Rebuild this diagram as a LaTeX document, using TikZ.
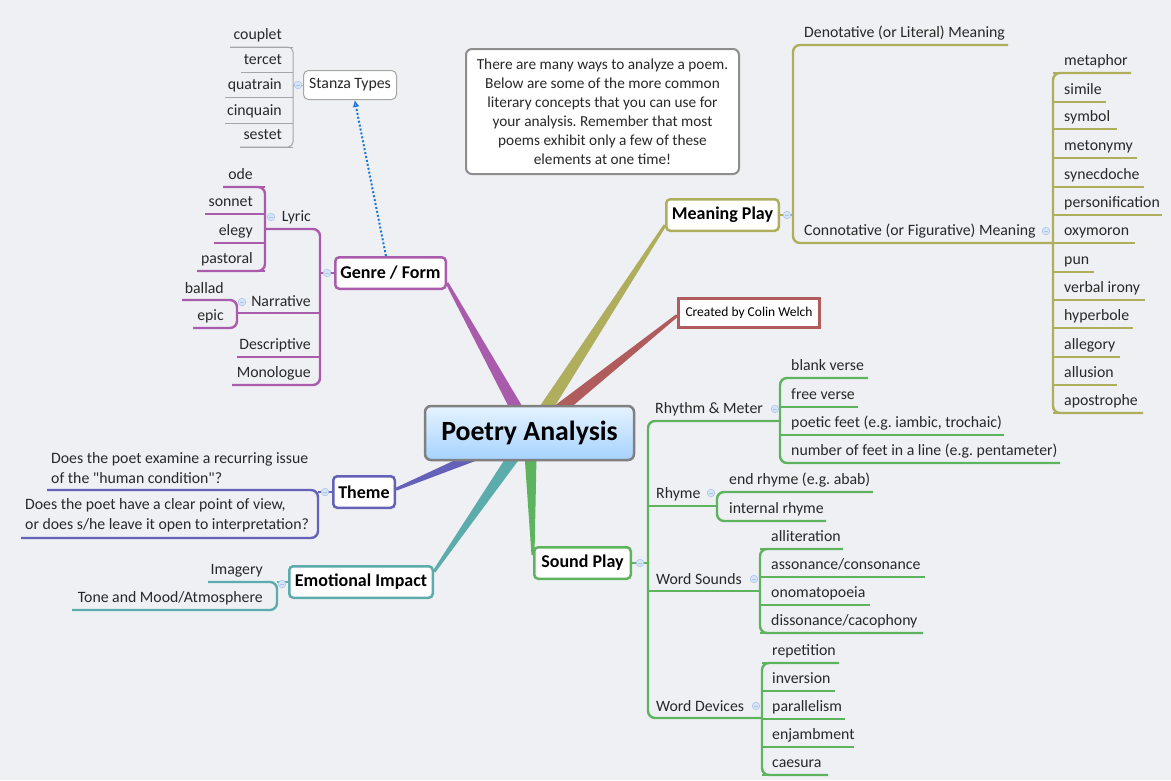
\documentclass[tikz,border=0pt]{standalone}
\usepackage{fontspec}
\setmainfont{Carlito}[Ligatures=TeXOff]
\usetikzlibrary{calc,arrows.meta}
\frenchspacing

\definecolor{bgcol}{RGB}{239,240,244}
\definecolor{purp}{RGB}{170,92,172}
\definecolor{olive}{RGB}{174,174,92}
\definecolor{brick}{RGB}{176,92,92}
\definecolor{slate}{RGB}{100,98,184}
\definecolor{teal}{RGB}{92,172,172}
\definecolor{leafgreen}{RGB}{94,180,94}
\definecolor{stanzagray}{RGB}{165,165,165}
\definecolor{linkblue}{RGB}{30,120,220}
\definecolor{knobdraw}{RGB}{170,196,234}
\definecolor{knobfill}{RGB}{214,228,248}
\definecolor{ctop}{RGB}{230,243,255}
\definecolor{cbot}{RGB}{166,210,255}
\definecolor{cdraw}{RGB}{128,128,128}
\definecolor{txt}{RGB}{40,40,40}

\newcommand\leaffont{\fontsize{15.8}{19.5}\selectfont}
\newcommand\topicfont{\fontsize{18}{20}\selectfont\bfseries}
% tapered branch from the centre to a topic
\newcommand\branch[3]{%
  \fill[#1] ($(#2)!7pt!90:(#3)$) -- ($(#3)!1.5pt!-90:(#2)$)
    -- ($(#3)!1.5pt!90:(#2)$) -- ($(#2)!7pt!-90:(#3)$) -- cycle;}
% collapse knob
\newcommand\knob[1]{%
  \draw[knobdraw, fill=knobfill, line width=0.6pt] (#1) circle (3.8pt);
  \draw[knobdraw, line width=0.8pt] ($(#1)+(-2,0)$) -- ($(#1)+(2,0)$);}

\begin{document}
\begin{tikzpicture}[x=1pt,y=-1pt,
    topic/.style={draw, line width=2.5pt, rounded corners=4pt, fill=white,
      font=\topicfont, inner sep=0pt},
    leaf/.style={font=\leaffont, text=txt, inner sep=0pt},
    sub/.style={line width=2.4pt, rounded corners=7pt}]
  \useasboundingbox (0,0) rectangle (1171,780);
  \fill[bgcol] (0,0) rectangle (1171,780);

  %% main topics
  \node[topic, draw=purp, minimum width=110.5pt, minimum height=31.5pt] (genre) at (390.5,273) {Genre / Form};
  \node[topic, draw=olive, minimum width=112.5pt, minimum height=31.5pt] (meaning) at (722.5,215) {Meaning Play};
  \node[draw=brick, line width=3pt, fill=white, minimum width=141pt, minimum height=29pt,
    font=\fontsize{13.5}{15}\selectfont, inner sep=0pt] (credit) at (749,313) {Created by Colin Welch};
  \node[topic, draw=slate, minimum width=61.5pt, minimum height=31.5pt] (theme) at (364,492) {Theme};
  \node[topic, draw=teal, minimum width=143.5pt, minimum height=31.5pt] (impact) at (361,582) {Emotional Impact};
  \node[topic, draw=leafgreen, minimum width=96.5pt, minimum height=31.5pt] (sound) at (582.5,563) {Sound Play};

  %% branches
  \coordinate (hub) at (530,433);
  \branch{purp}{hub}{genre.-10}
  \branch{olive}{hub}{meaning.190}
  \branch{brick}{hub}{credit.182}
  \branch{slate}{hub}{theme.5}
  \branch{teal}{hub}{impact.8}
  \branch{leafgreen}{hub}{sound.171}

  \node[draw=cdraw, line width=2.5pt, rounded corners=6pt, top color=ctop, bottom color=cbot,
    minimum width=209pt, minimum height=54pt, font=\fontsize{27.8}{30}\selectfont\bfseries] (poetry) at (529.5,433) {Poetry Analysis};

  %% note
  \node[draw=cdraw!90, line width=2pt, rounded corners=6pt, fill=white, minimum width=273pt,
    minimum height=125pt, align=center, font=\fontsize{15.3}{19}\selectfont, text=txt] (note) at (602.5,111.5)
    {There are many ways to analyze a poem.\\ Below are some of the more common\\ literary concepts that you can use for\\
     your analysis. Remember that most\\ poems exhibit only a few of these\\ elements at one time!};

  %% stanza types
  \node[draw=stanzagray, line width=1pt, rounded corners=5pt, fill=white, minimum width=93pt,
    minimum height=29pt, font=\leaffont, text=txt, inner sep=0pt] (stanza) at (350,85) {Stanza Types};
  \draw[linkblue, line width=2pt, dash pattern=on 2pt off 2pt, -{Latex[length=7pt,width=7pt,open]}]
    ($(genre.north west)!0.46!(genre.north east)$) -- ($(stanza.south west)!0.55!(stanza.south east)$);
  \draw[stanzagray, line width=1pt, rounded corners=5pt] (230,47) -- (293,47) -- (293,147) -- (240,147);
  \draw[stanzagray, line width=1pt] (stanza.west) -- (293,85);
  \foreach \t/\y/\e in {couplet/47/230, tercet/72/241, quatrain/97/225, cinquain/123/225, sestet/147/240} {
    \draw[stanzagray, line width=1pt] (293,\y) -- (\e,\y);
    \node[leaf, anchor=base east] (st-\y) at (282,\y-8) {\t};
  }
  \knob{298,85}

  %% genre / form
  \draw[purp, sub] (265,229) -- (320,229) -- (320,385) -- (232,385);
  \draw[purp, sub] (genre.west) -- (320,273);
  \draw[purp, sub] (237,313) -- (320,313);
  \draw[purp, sub] (237,357) -- (320,357);
  \node[leaf, anchor=base east] (lyric) at (311,221) {Lyric};
  \node[leaf, anchor=base east] (narrative) at (311,306) {Narrative};
  \node[leaf, anchor=base east] (descr) at (311,349) {Descriptive};
  \node[leaf, anchor=base east] (mono) at (311,377) {Monologue};
  \draw[purp, sub] (223,187) -- (265,187) -- (265,271) -- (197,271);
  \foreach \t/\y/\e in {ode/187/223, sonnet/214/205, elegy/243/214, pastoral/271/197} {
    \draw[purp, sub] (265,\y) -- (\e,\y);
    \node[leaf, anchor=base east] (ly-\y) at (253,\y-8) {\t};
  }
  \draw[purp, sub] (182,300) -- (237,300) -- (237,328) -- (193,328);
  \node[leaf, anchor=base east] (ballad) at (224,293) {ballad};
  \node[leaf, anchor=base east] (epic) at (224,320) {epic};
  \knob{327,273}
  \knob{271,217}
  \knob{242,302}

  %% meaning play
  \draw[olive, sub] (1008,45) -- (793,45) -- (793,243) -- (1053,243);
  \draw[olive, sub] (meaning.east) -- (793,215);
  \node[leaf, anchor=base west] (denot) at (804,37) {Denotative (or Literal) Meaning};
  \node[leaf, anchor=base west] (connot) at (804,235) {Connotative (or Figurative) Meaning};
  \draw[olive, sub] (1131,73) -- (1053,73) -- (1053,413) -- (1143,413);
  \foreach \t/\y/\e in {metaphor/73/1131, simile/102/1106, symbol/129/1117, metonymy/158/1137,
      synecdoche/187/1144, personification/215/1162, oxymoron/243/1135, pun/272/1094,
      verbal irony/300/1145, hyperbole/328/1133, allegory/357/1120, allusion/385/1117,
      apostrophe/413/1143} {
    \draw[olive, sub] (1053,\y) -- (\e,\y);
    \node[leaf, anchor=base west] (fig-\y) at (1064,\y-8) {\t};
  }
  \knob{787,215}
  \knob{1046,231}

  %% sound play
  \draw[leafgreen, sub] (780,421) -- (648,421) -- (648,718) -- (762,718);
  \draw[leafgreen, sub] (sound.east) -- (648,563);
  \draw[leafgreen, sub] (648,506) -- (717,506);
  \draw[leafgreen, sub] (648,591) -- (760,591);
  \node[leaf, anchor=base west] (rhythm) at (655,413) {Rhythm \& Meter};
  \node[leaf, anchor=base west] (rhyme) at (656,498) {Rhyme};
  \node[leaf, anchor=base west] (wsounds) at (656,584) {Word Sounds};
  \node[leaf, anchor=base west] (wdevices) at (656,711) {Word Devices};
  % rhythm & meter
  \draw[leafgreen, sub] (868,378) -- (780,378) -- (780,463) -- (1060,463);
  \draw[leafgreen, sub] (780,407) -- (858,407);
  \draw[leafgreen, sub] (780,435) -- (1004,435);
  \node[leaf, anchor=base west] (blank) at (791,370) {blank verse};
  \node[leaf, anchor=base west] (free) at (791,399) {free verse};
  \node[leaf, anchor=base west] (feet) at (791,427) {poetic feet (e.g. iambic, trochaic)};
  \node[leaf, anchor=base west] (nfeet) at (791,455) {number of feet in a line (e.g. pentameter)};
  % rhyme
  \draw[leafgreen, sub] (873,492) -- (717,492) -- (717,521) -- (826,521);
  \node[leaf, anchor=base west] (endr) at (729,484) {end rhyme (e.g. abab)};
  \node[leaf, anchor=base west] (intr) at (729,513) {internal rhyme};
  % word sounds
  \draw[leafgreen, sub] (843,549) -- (760,549) -- (760,633) -- (923,633);
  \foreach \t/\y/\e in {alliteration/549/843, {assonance/consonance}/577/925,
      onomatopoeia/605/870, {dissonance/cacophony}/633/923} {
    \draw[leafgreen, sub] (760,\y) -- (\e,\y);
    \node[leaf, anchor=base west] (ws-\y) at (771,\y-8) {\t};
  }
  % word devices
  \draw[leafgreen, sub] (839,663) -- (762,663) -- (762,775) -- (828,775);
  \foreach \t/\y/\e in {repetition/663/839, inversion/691/835, parallelism/719/845,
      enjambment/747/854, caesura/775/828} {
    \draw[leafgreen, sub] (762,\y) -- (\e,\y);
    \node[leaf, anchor=base west] (wd-\y) at (772,\y-8) {\t};
  }
  \knob{640,563}
  \knob{775,409}
  \knob{711,493}
  \knob{754,579}
  \knob{756,706}

  %% theme
  \draw[slate, sub] (47,490) -- (318,490) -- (318,538) -- (21,538);
  \draw[slate, sub] (theme.west) -- (318,492);
  \node[leaf, anchor=base west, align=left] (issue) at (51,483)
    {Does the poet examine a recurring issue\\ of the "human condition"?};
  \node[leaf, anchor=base west, align=left] (view) at (25,529)
    {Does the poet have a clear point of view,\\ or does s/he leave it open to interpretation?};
  \knob{325,492}

  %% emotional impact
  \draw[teal, sub] (208,582) -- (277,582) -- (277,610) -- (72,610);
  \draw[teal, sub] (impact.west) -- (277,582);
  \node[leaf, anchor=base east] (imagery) at (263,574) {Imagery};
  \node[leaf, anchor=base east] (tone) at (263,602) {Tone and Mood/Atmosphere};
  \knob{282,584}
\end{tikzpicture}
\end{document}
